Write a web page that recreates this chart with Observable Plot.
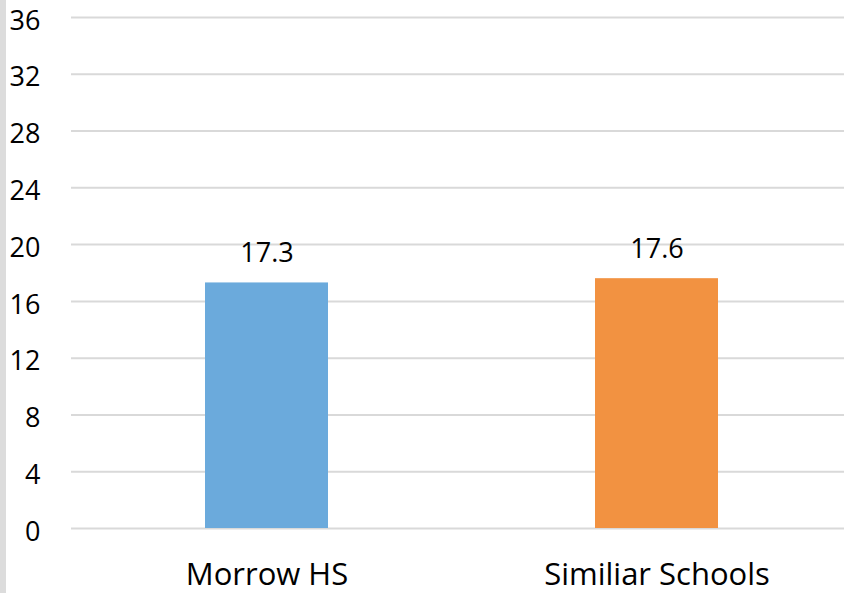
<!DOCTYPE html>
<html>
<head>
<meta charset="utf-8">
<script src="https://cdn.jsdelivr.net/npm/d3@7"></script>
<script src="https://cdn.jsdelivr.net/npm/@observablehq/plot@0.6"></script>
<style>
  html, body { margin: 0; padding: 0; background: #fff; }
  #wrap { position: relative; width: 844px; height: 593px; overflow: hidden; }
  #edge { position: absolute; left: 0; top: 0; width: 6px; height: 593px; background: #dcdcdc; }
  svg { font-family: "Open Sans", sans-serif; }
</style>
</head>
<body>
<div id="wrap"><div id="edge"></div></div>
<script>
const categories = ["Morrow HS", "Similiar Schools"];
const values = [17.3, 17.6];
const colors = ["#6BAADC", "#F29241"];
const yTicks = [0, 4, 8, 12, 16, 20, 24, 28, 32, 36];

const data = categories.map((c, i) => ({name: c, value: values[i], color: colors[i]}));

const chart = Plot.plot({
  width: 844,
  height: 593,
  marginTop: 17,
  marginBottom: 65,
  marginLeft: 71,
  marginRight: 0,
  style: {fontFamily: "'Open Sans', sans-serif", background: "transparent", overflow: "visible"},
  x: {domain: categories, range: [71.5, 851.5], paddingInner: 0.685, paddingOuter: 0.3425, align: 0.5, axis: null},
  y: {domain: [0, 36], axis: null},
  marks: [
    Plot.ruleY(yTicks, {stroke: "#d9d9d9", strokeWidth: 2}),
    Plot.barY(data, {x: "name", y: "value", fill: "color"}),
    Plot.text(data, {x: "name", y: "value", text: d => d.value.toFixed(1), dy: -21, lineAnchor: "bottom", fontSize: 27, fill: "#000"}),
    Plot.text(data, {x: "name", y: 0, text: "name", dy: 56, lineAnchor: "bottom", fontSize: 31, fill: "#000"}),
    Plot.text(yTicks, {y: d => d, text: d => String(d), frameAnchor: "left", dx: -31, dy: 3.5, textAnchor: "end", fontSize: 27, fill: "#000"})
  ]
});
document.getElementById("wrap").insertBefore(chart, document.getElementById("edge"));
</script>
</body>
</html>
